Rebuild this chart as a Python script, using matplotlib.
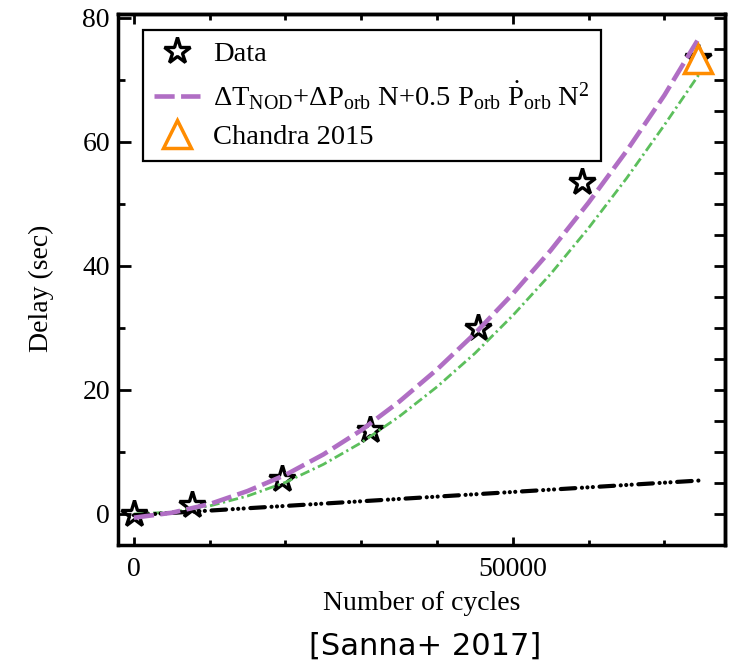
import numpy as np
import matplotlib
matplotlib.use("Agg")
import matplotlib.pyplot as plt
from matplotlib.lines import Line2D

plt.rcParams['font.family'] = ['Liberation Serif', 'DejaVu Serif']
plt.rcParams['mathtext.fontset'] = 'custom'
plt.rcParams['mathtext.rm'] = 'Liberation Serif'
plt.rcParams['mathtext.it'] = 'Liberation Serif:italic'
plt.rcParams['mathtext.bf'] = 'Liberation Serif:bold'

# ---- data ----
data_cycles = [0, 7600, 19500, 31100, 45400, 59100, 74400]
data_delay = [0.0, 1.5, 5.6, 13.5, 30.0, 53.5, 73.5]

chandra_cycles = [74500]
chandra_delay = [73.4]

model_cycles = [0, 5000, 10000, 15000, 20000, 25000, 30000, 35000, 40000,
                45000, 50000, 55000, 60000, 65000, 70000, 74700]
fit_delay = [-0.6, 0.2, 1.6, 3.7, 6.3, 9.6, 13.5, 18.1, 23.3,
             29.1, 35.5, 42.5, 50.2, 58.5, 67.5, 77.0]
alt_delay = [0.0, 0.3, 1.3, 2.9, 5.1, 8.0, 11.5, 15.7, 20.5,
             25.9, 32.0, 38.7, 46.1, 54.1, 62.7, 71.1]

linear_cycles = [0, 74700]
linear_delay = [-0.2, 5.4]

fit_label = (r'$\Delta$T$_{\mathrm{NOD}}$+$\Delta$P$_{\mathrm{orb}}$ N+0.5 '
             r'P$_{\mathrm{orb}}$ $\dot{\mathrm{P}}_{\mathrm{orb}}$ N$^{2}$')

W, H = 730, 662
fig = plt.figure(figsize=(W / 100, H / 100), dpi=100)
L, R, T, B = 118, 725, 14, 545
ax = fig.add_axes([L / W, 1 - B / H, (R - L) / W, (B - T) / H])

purple = '#b06ec4'
green = '#5cbf5c'
orange = '#ff8c00'

ax.plot(data_cycles, data_delay, ls='none', marker='*', ms=20, mec='black',
        mfc='none', mew=2.4, zorder=2)
ax.plot(model_cycles, alt_delay, color=green, lw=2.0,
        dashes=(3.5, 1.3, 0.8, 1.3), zorder=3)
ax.plot(linear_cycles, linear_delay, color='black', lw=3.0,
        dashes=(3.5, 1.6, 0.01, 1.3, 0.01, 1.3, 0.01, 1.6),
        dash_capstyle='round', zorder=3)
ax.plot(model_cycles, fit_delay, color=purple, lw=3.3, dashes=(4.4, 1.4), zorder=4)
ax.plot(chandra_cycles, chandra_delay, ls='none', marker='^', ms=20, mec=orange,
        mfc='white', mew=2.5, zorder=5)

ax.set_xlim(-2100, 78000)
ax.set_ylim(-5, 80.6)

ax.set_xticks([0, 50000])
ax.set_xticks(np.arange(10000, 78000, 10000), minor=True)
ax.set_yticks(np.arange(0, 81, 20))
ax.set_yticks(np.arange(10, 80, 20), minor=True)

for s in ax.spines.values():
    s.set_linewidth(2.5)

ax.tick_params(axis='both', which='both', direction='in', width=2.0,
               labelsize=20, colors='black')
ax.tick_params(axis='x', which='major', length=6, pad=9)
ax.tick_params(axis='x', which='minor', length=3.6)
ax.tick_params(axis='y', which='major', length=9, pad=5.8)
ax.tick_params(axis='y', which='minor', length=5)

secx = ax.secondary_xaxis('top')
secx.set_xticks([0, 50000])
secx.set_xticks(np.arange(10000, 78000, 10000), minor=True)
secx.tick_params(which='both', direction='in', width=2.0, labeltop=False)
secx.tick_params(which='major', length=7.2)
secx.tick_params(which='minor', length=4.3)
secx.spines['top'].set_linewidth(2.5)

secy = ax.secondary_yaxis('right')
secy.set_yticks(np.arange(-5, 81, 5))
secy.tick_params(which='both', direction='in', width=2.0, length=8, labelright=False)
secy.yaxis.set_minor_locator(matplotlib.ticker.NullLocator())
secy.spines['right'].set_linewidth(2.5)

ax.set_xlabel('Number of cycles', fontsize=20)
ax.set_ylabel('Delay (sec)', fontsize=20)
ax.xaxis.set_label_coords(0.5, (B - 591) / (B - T))
ax.yaxis.set_label_coords((54 - L) / (R - L), (B - 288) / (B - T))

handles = [
    Line2D([], [], ls='none', marker='*', ms=20, mec='black', mfc='white', mew=2.4),
    Line2D([], [], color=purple, lw=3.3, dashes=(4.4, 1.4)),
    Line2D([], [], ls='none', marker='^', ms=20, mec=orange, mfc='white', mew=2.5),
]
labels = ['Data', fit_label, 'Chandra 2015']
leg = ax.legend(handles, labels, loc='upper left',
                bbox_to_anchor=((143 - L) / (R - L), (B - 30) / (B - T)),
                borderaxespad=0, fontsize=20.5, frameon=True, fancybox=False,
                edgecolor='black', framealpha=1, handlelength=1.6,
                handletextpad=0.45, borderpad=0.4, labelspacing=0.42)
leg.get_frame().set_linewidth(1.6)

fig.text(425 / W, 1 - 655 / H, '[Sanna+ 2017]', ha='center', va='baseline',
         fontsize=22, family='DejaVu Sans')

fig.savefig('out.png', dpi=100)
